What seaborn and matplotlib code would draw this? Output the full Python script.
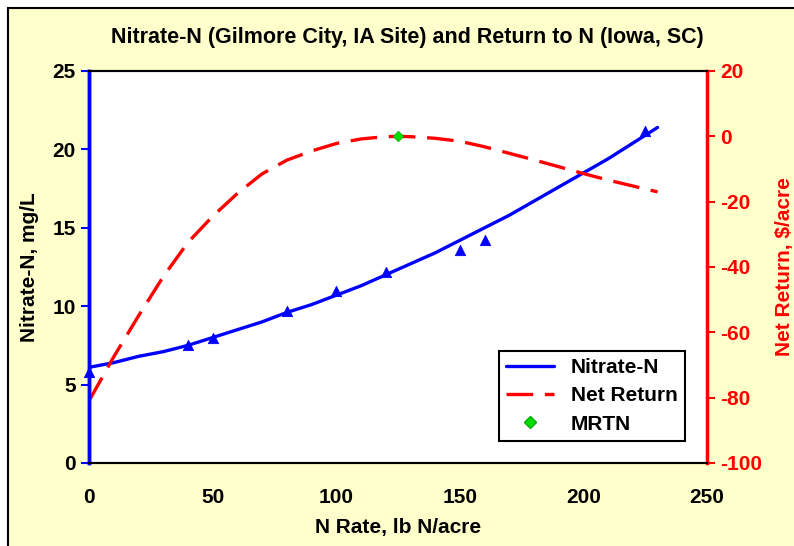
import numpy as np
import seaborn as sns
import matplotlib.pyplot as plt
from matplotlib.patches import Rectangle
from matplotlib.lines import Line2D

# observed nitrate points
n_obs = [0, 40, 50, 80, 100, 120, 150, 160, 225]
nitrate_obs = [5.8, 7.5, 8.0, 9.7, 11.0, 12.2, 13.6, 14.2, 21.2]

# fitted nitrate curve
n_fit = [0, 10, 20, 30, 40, 50, 60, 70, 80, 90, 100, 110, 120, 130, 140, 150,
         160, 170, 180, 190, 200, 210, 220, 230]
nitrate_fit = [6.1, 6.4, 6.8, 7.1, 7.5, 8.0, 8.5, 9.0, 9.6, 10.1, 10.7, 11.3,
               12.0, 12.7, 13.4, 14.2, 15.0, 15.8, 16.7, 17.6, 18.5, 19.4, 20.4, 21.4]

# net return curve
n_ret = [0, 10, 20, 30, 40, 50, 60, 70, 80, 90, 100, 110, 120, 125, 130, 140,
         150, 160, 170, 180, 190, 200, 210, 220, 230]
net_return = [-81, -67.5, -55, -43, -32.5, -24.5, -17.5, -11.5, -7.3, -4.5,
              -2.2, -0.8, -0.1, 0, -0.1, -0.6, -1.5, -3.2, -5.2, -7.2, -9.3,
              -11.4, -13.4, -15.2, -17]

mrtn_n = [125]
mrtn_ret = [0]

sns.set_style("white")
plt.rcParams['font.family'] = ['Liberation Sans', 'DejaVu Sans']
plt.rcParams['font.weight'] = 'bold'
plt.rcParams['axes.unicode_minus'] = False
plt.rcParams['text.color'] = 'black'
plt.rcParams['axes.labelcolor'] = 'black'

fig = plt.figure(figsize=(7.94, 5.46), dpi=100)
fig.patch.set_facecolor('white')
fig.patches.append(Rectangle((8 / 794, -0.05), 1.1, 1 - 8 / 546 + 0.05,
                             transform=fig.transFigure, facecolor='#FFFFCC',
                             edgecolor='black', linewidth=1.5, zorder=-10))

ax = fig.add_axes([89 / 794, 83 / 546, 618 / 794, 392 / 546])
ax.set_facecolor('white')
ax2 = ax.twinx()

sns.lineplot(x=n_fit, y=nitrate_fit, ax=ax, color='#0000FF', linewidth=2.4)
sns.scatterplot(x=n_obs, y=nitrate_obs, ax=ax, marker='^', color='#0000FF',
                s=55, edgecolor='#0000FF', zorder=5, clip_on=False)

sns.lineplot(x=n_ret, y=net_return, ax=ax2, color='#FF0000', linewidth=2.4)
ax2.lines[-1].set_dashes([8, 3.5])
sns.scatterplot(x=mrtn_n, y=mrtn_ret, ax=ax2, marker='D', color='#00DD00',
                s=30, edgecolor='#00AA00', zorder=6)

ax.set_xlim(0, 250)
ax.set_ylim(0, 25)
ax2.set_ylim(-100, 20)
ax.set_xticks([0, 50, 100, 150, 200, 250])
ax.set_yticks([0, 5, 10, 15, 20, 25])
ax2.set_yticks([-100, -80, -60, -40, -20, 0, 20])

fs = 15
ax.tick_params(axis='x', direction='out', length=6, width=1.5, colors='black',
               labelsize=fs, pad=12)
ax.tick_params(axis='y', direction='out', length=6, width=1.5, colors='#0000FF',
               labelcolor='black', labelsize=fs)
ax2.tick_params(axis='y', direction='out', length=6, width=1.5, colors='#FF0000',
                labelcolor='#FF0000', labelsize=fs)
for lab in ax.get_xticklabels() + ax.get_yticklabels() + ax2.get_yticklabels():
    lab.set_fontweight('bold')

for a in (ax, ax2):
    for s in a.spines.values():
        s.set_visible(True)
        s.set_linewidth(1.5)
        s.set_color('black')
ax2.spines['left'].set_color('#0000FF')
ax2.spines['left'].set_linewidth(2.5)
ax2.spines['right'].set_color('#FF0000')
ax2.spines['right'].set_linewidth(2.5)
ax.spines['left'].set_color('#0000FF')
ax.spines['left'].set_linewidth(2.5)
ax.spines['right'].set_visible(False)

ax.set_xlabel('N Rate, lb N/acre', fontsize=fs, fontweight='bold', labelpad=8,
              color='black')
ax.set_ylabel('Nitrate-N, mg/L', fontsize=fs, fontweight='bold', labelpad=10,
              color='black')
ax2.set_ylabel('Net Return, $/acre', fontsize=fs, fontweight='bold',
               color='#FF0000', labelpad=9)
fig.text(407 / 794, 1 - 38 / 546,
         'Nitrate-N (Gilmore City, IA Site) and Return to N (Iowa, SC)',
         ha='center', va='center', fontsize=15.5, fontweight='bold', color='black')

handles = [
    Line2D([], [], color='#0000FF', linewidth=2.4),
    Line2D([], [], color='#FF0000', linewidth=2.4, dashes=[8, 3.5]),
    Line2D([], [], color='#00DD00', marker='D', markersize=6, linestyle='none',
           markeredgecolor='#00AA00'),
]
leg = ax2.legend(handles, ['Nitrate-N', 'Net Return', 'MRTN'],
                 loc='lower right', bbox_to_anchor=(0.964, 0.056),
                 borderaxespad=0, prop={'size': fs, 'weight': 'bold'},
                 frameon=True, fancybox=False, edgecolor='black',
                 handlelength=2.3, borderpad=0.35, labelspacing=0.45,
                 framealpha=1)
leg.get_frame().set_linewidth(1.5)
for t in leg.get_texts():
    t.set_color('black')
if ax.get_legend():
    ax.get_legend().remove()

fig.savefig('out.png', dpi=100)
